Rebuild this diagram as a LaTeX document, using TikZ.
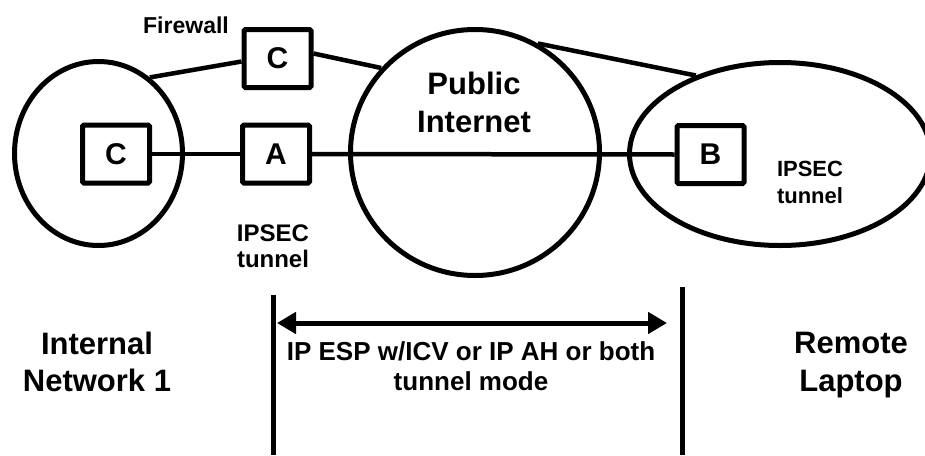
\documentclass[tikz,border=0pt]{standalone}
\usepackage{fontspec}
\setmainfont{Liberation Sans}
\usetikzlibrary{shapes.geometric,arrows.meta}
\tikzset{
  netshape/.style={ellipse, draw, line width=5pt, inner sep=0pt},
  devbox/.style={draw, line width=5pt, rounded corners=1.5pt, minimum width=67pt, minimum height=58pt, inner sep=0pt, font=\bfseries\fontsize{30}{30}\selectfont},
  link/.style={line width=4.5pt},
  bar/.style={line width=5pt},
  lbl/.style={align=center, inner sep=0pt, font=\bfseries},
  dbl/.style={line width=5pt, {Triangle[length=19pt,width=21pt]}-{Triangle[length=19pt,width=21pt]}}
}
\begin{document}
\begin{tikzpicture}[x=1pt,y=-1pt]
\fill[white] (0,0) rectangle (925,455);
\useasboundingbox (0,0) rectangle (925,455);

% networks
\node[netshape, minimum width=168pt, minimum height=184pt] (leftnet) at (98.5,153.5) {};
\node[netshape, minimum width=249pt, minimum height=246pt] (inet) at (475,152.5) {};
\node[netshape, minimum width=301pt, minimum height=183pt] (laptop) at (780,154) {};

% devices
\node[devbox] (leftC) at (116,154) {C};
\node[devbox] (topC) at (277.5,58.5) {C};
\node[devbox] (A) at (276,154) {A};
\node[devbox] (B) at (710.5,154.5) {B};

% connectors
\draw[link] (leftC.east) -- (A.west);
\draw[link] (A.east) -- (B.west);
\draw[link] (leftnet.56) -- ([yshift=-3pt]topC.west);
\draw[link] ([yshift=5pt]topC.east) -- (inet.138);
\draw[link] (inet.60) -- (laptop.137);

% labels
\node[lbl, anchor=base, font=\bfseries\fontsize{23}{23}\selectfont] (fw) at (186,33) {Firewall};
\node[lbl, font=\bfseries\fontsize{31}{38}\selectfont] (pi) at (474,102) {Public\\Internet};
\node[lbl, font=\bfseries\fontsize{24}{26}\selectfont] (ipsecL) at (273,246) {IPSEC\\tunnel};
\node[lbl, font=\bfseries\fontsize{22}{27}\selectfont] (ipsecR) at (810,182.5) {IPSEC\\tunnel};
\node[lbl, font=\bfseries\fontsize{31}{37}\selectfont] (inw) at (97,362) {Internal\\Network 1};
\node[lbl, font=\bfseries\fontsize{31}{38}\selectfont] (rl) at (851,365) {Remote\\Laptop};
\node[lbl, font=\bfseries\fontsize{26}{30}\selectfont] (mode) at (471,366) {IP ESP w/ICV or IP AH or both\\tunnel mode};

% tunnel span
\coordinate (v1t) at (273,295);
\coordinate (v1b) at (273,455);
\coordinate (v2t) at (682,287);
\coordinate (v2b) at (682,455);
\coordinate (arL) at (277,323);
\coordinate (arR) at (667,323);
\draw[bar] (v1t) -- (v1b);
\draw[bar] (v2t) -- (v2b);
\draw[dbl] (arL) -- (arR);
\end{tikzpicture}
\end{document}
